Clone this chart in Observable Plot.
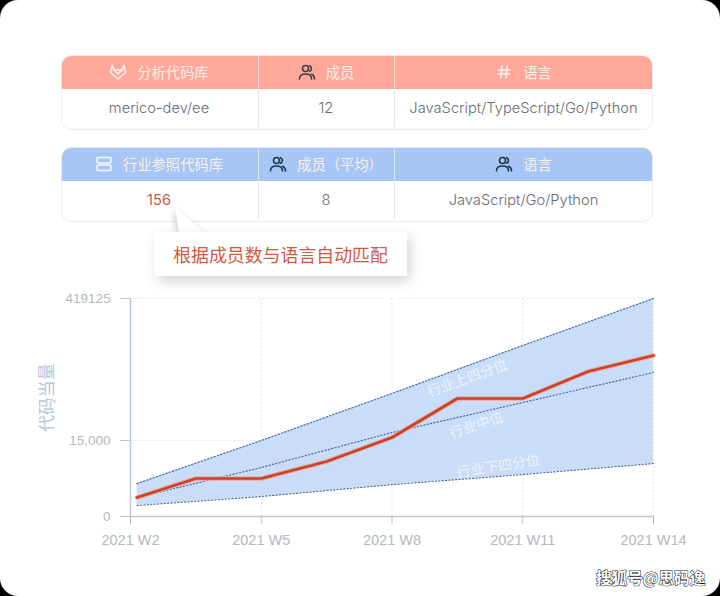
<!DOCTYPE html>
<html><head><meta charset="utf-8">
<script src="https://cdn.jsdelivr.net/npm/d3@7"></script>
<script src="https://cdn.jsdelivr.net/npm/@observablehq/plot@0.6"></script>
<style>
html,body{margin:0;padding:0;background:#fff;width:720px;height:596px;overflow:hidden;font-family:Inter,"Noto Sans CJK SC",sans-serif}
#header{position:relative;width:720px;height:280px}
.tbl{position:absolute;left:61px;width:592px;height:75px;border-radius:10px;box-sizing:border-box;border:1.5px solid #e9ecf1;overflow:hidden;background:#fff}
.row{position:absolute;left:-1.5px;width:592px;display:grid;grid-template-columns:198px 136px 258px}
.head{top:-1.5px;height:34.5px;color:#fdeee9;font-size:14.3px}
.body{top:33px;height:38px;color:#666c76;font-size:14.7px;font-weight:300}
.row>div{display:flex;align-items:center;justify-content:center;gap:10px;border-right:1px solid #e4e7ec;box-sizing:border-box}
.head>div{border-right:1px solid #ffffff90}
.row>div:last-child{border-right:none}
svg.ic{width:18px;height:18px;fill:none;stroke-width:1.6;stroke-linecap:round;stroke-linejoin:round}
#callout{position:absolute;left:154px;top:232px;width:253px;height:44px;background:#fff;box-shadow:3px 5px 12px #0000002b;display:flex;align-items:center;justify-content:center;color:#cf5a3d;font-size:17.9px}
#tip{position:absolute;left:170px;top:206px;width:40px;height:30px}
#mark{position:absolute;left:596px;top:566px;font:700 15.6px "Noto Sans CJK SC",sans-serif;color:#fff;-webkit-text-stroke:1px #111;paint-order:stroke fill}
#frame{position:fixed;left:0;top:0;width:720px;height:596px;border-radius:18px;box-shadow:0 0 0 30px #000;pointer-events:none}
</style></head><body>
<div id="header"></div>
<div id="chart"></div>
<div id="mark"></div>
<div id="frame"></div>
<script>
const weeks = [2.15, 3.5, 5, 6.5, 8, 9.5, 11, 12.5, 14];
const actual = [3750, 7500, 7500, 10860, 23540, 134500, 134500, 211400, 256900];
const bandWeeks = [2.15, 5, 8, 11, 14];
const upper = [6500, 15000, 148800, 285400, 419125];
const median = [3750, 9670, 37770, 123150, 208500];
const lower = [2170, 3950, 6300, 8290, 10460];
const xTicks = [2, 5, 8, 11, 14];
const yTicks = [0, 15000, 419125];
const yTickLabels = ["0", "15,000", "419125"];
const bandLabels = ["行业上四分位", "行业中位", "行业下四分位"];
const bandLabelWeeks = [9.73, 9.94, 10.44];
const bandLabelValues = [191450, 57700, 9870];
const bandLabelAngles = [-20, -19, -9];
const analysedHead = ["分析代码库", "成员", "语言"];
const analysedRow = ["merico-dev/ee", "12", "JavaScript/TypeScript/Go/Python"];
const peerHead = ["行业参照代码库", "成员（平均）", "语言"];
const peerRow = ["156", "8", "JavaScript/Go/Python"];
const note = "根据成员数与语言自动匹配";
const watermark = "搜狐号@思码逸";

const people = c => `<svg class="ic" viewBox="0 0 18 18" stroke="${c}"><circle cx="7.5" cy="5.5" r="3"/><path d="M1.5 16c0-3.5 2.5-5 6-5s6 1.500 6 5M11.500 2.700a3 3 0 0 1 0 5.600M13.500 11.300c2 .7 3 2.300 3 4.700"/></svg>`;
const fox = `<svg class="ic" viewBox="0 0 18 18" stroke="#fff2ec"><path d="M3 2l2 5h8l2-5 1.500 7.500L9 16 1.500 9.500z"/><path d="M5 7l4 4 4-4"/></svg>`;
const hash = `<svg class="ic" viewBox="0 0 18 18" stroke="#fff2ec"><path d="M7 3L5.800 15M12.200 3L11 15M3.500 7h11.500M3 11h11.500"/></svg>`;
const rows = `<svg class="ic" viewBox="0 0 18 18" stroke="#f2f7ff"><rect x="2" y="2.500" width="14" height="5.500" rx="1.500"/><rect x="2" y="10" width="14" height="5.500" rx="1.500"/></svg>`;

function table(top, color, heads, icons, vals, red) {
  const h = heads.map((t, i) => `<div>${icons[i]}<span>${t}</span></div>`).join("");
  const b = vals.map((t, i) => `<div style="${red && i === 0 ? "color:#cf5a3d;font-weight:400" : ""}">${t}</div>`).join("");
  return `<div class="tbl" style="top:${top}px"><div class="row head" style="background:${color}">${h}</div><div class="row body">${b}</div></div>`;
}
document.getElementById("header").innerHTML =
  table(55, "#ffa899", analysedHead, [fox, people("#3a3f4a"), hash], analysedRow, false) +
  table(147, "#a6c6f5", peerHead, [rows, people("#24344f"), people("#24344f")], peerRow, true) +
  `<svg id="tip" viewBox="0 0 40 30" style="filter:drop-shadow(-1px 2px 3px #00000038)"><path d="M5 2L9 27H36Z" fill="#fff"/></svg>` +
  `<div id="callout">${note}</div>`;
document.getElementById("mark").textContent = watermark;

const line = (xs, ys) => xs.map((x, i) => ({x, y: ys[i]}));
const band = bandWeeks.map((x, i) => ({x, y1: lower[i], y2: upper[i]}));
const labelRows = bandLabels.map((t, i) => ({t, x: bandLabelWeeks[i], y: bandLabelValues[i], a: bandLabelAngles[i]}));
const dotted = {stroke: "#4a6aa5", strokeWidth: 1.2, strokeDasharray: "1.2 2.2"};
const grid = {stroke: "#dfe3ea", strokeDasharray: "1.500 2.500", strokeWidth: 1};
const axisFont = '"Liberation Sans",Inter,sans-serif';

const plot = Plot.plot({
  width: 720, height: 316,
  marginLeft: 130, marginRight: 67, marginTop: 18, marginBottom: 80,
  style: {background: "transparent", fontFamily: 'Inter,"Noto Sans CJK SC",sans-serif'},
  x: {type: "linear", domain: [2, 14]},
  y: {type: "linear", domain: [0, 15000, 419125], range: [236, 160, 18]},
  marks: [
    Plot.ruleX(xTicks.slice(1), {...grid, y1: 0, y2: 419125}),
    Plot.ruleY(yTicks.slice(1), {...grid, x1: 2, x2: 14}),
    Plot.areaY(band, {x: "x", y1: "y1", y2: "y2", fill: "#c9dcf8"}),
    Plot.line(line(bandWeeks, upper), {x: "x", y: "y", ...dotted}),
    Plot.line(line(bandWeeks, median), {x: "x", y: "y", ...dotted}),
    Plot.line(line(bandWeeks, lower), {x: "x", y: "y", ...dotted}),
    Plot.text(labelRows, {x: "x", y: "y", text: "t", rotate: "a", fill: "#eef4fd", fontSize: 14}),
    Plot.line(line(weeks, actual), {x: "x", y: "y", stroke: "#f7a597", strokeWidth: 4.5, strokeLinejoin: "miter"}),
    Plot.line(line(weeks, actual), {x: "x", y: "y", stroke: "#c24530", strokeWidth: 2.7, strokeLinejoin: "miter"}),
    Plot.ruleX([2], {y1: 0, y2: 419125, stroke: "#b9c8df", strokeWidth: 1.5}),
    Plot.ruleY([0], {x1: 2, x2: 14, stroke: "#c3c6ce", strokeWidth: 1.5}),
    Plot.axisX({ticks: xTicks, tickFormat: d => `2021 W${d}`, tickSize: 8, tickPadding: 10, stroke: "#b9bdc6", color: "#b3b8c1", fontSize: 14.5, fontFamily: axisFont, label: null}),
    Plot.axisY({ticks: yTicks, tickFormat: d => yTickLabels[yTicks.indexOf(d)], tickSize: 10, tickPadding: 10, stroke: "#b9c8df", color: "#b3b8c1", fontSize: 13.5, fontFamily: axisFont, label: null}),
    Plot.text(["代码当量"], {frameAnchor: "left", textAnchor: "middle", dx: -83, dy: -10, rotate: -90, fill: "#b7c5da", fontSize: 17.2})
  ]
});
document.getElementById("chart").appendChild(plot);
</script>
</body></html>
